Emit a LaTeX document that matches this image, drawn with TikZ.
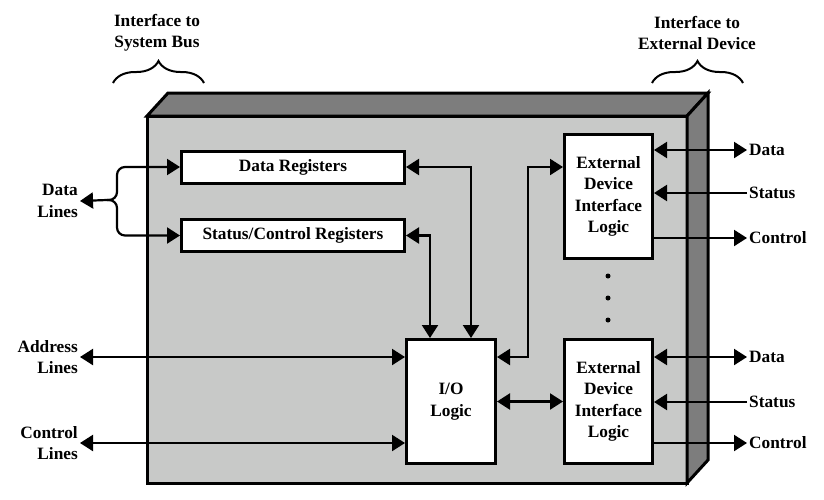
\documentclass[tikz,border=0pt]{standalone}
\usepackage{fontspec}
\setmainfont{Liberation Serif}
\usetikzlibrary{arrows.meta,decorations.pathreplacing,calc}
\definecolor{frontgray}{RGB}{200,201,200}
\definecolor{sidegray}{RGB}{125,125,125}
\begin{document}
\begin{tikzpicture}[x=1pt,y=-1pt,
  txt/.style={font=\fontsize{17.3}{21.5}\selectfont\bfseries},
  box/.style={txt, draw, line width=3pt, fill=white, align=center, inner sep=0pt},
  lbl/.style={txt, inner sep=2pt},
  conn/.style={line width=2.2pt},
  bracestyle/.style={line width=2pt, decorate, decoration={brace, amplitude=22pt}},
  >={Triangle[length=13pt,width=16pt]}
]
\useasboundingbox (0,0) rectangle (824,499);
% housing
\draw[line width=3pt, fill=frontgray] (147,116) rectangle (687,483);
\draw[line width=3pt, fill=sidegray, line join=miter] (147,116) -- (168,93) -- (708,93) -- (687,116) -- cycle;
\draw[line width=3pt, fill=sidegray, line join=miter] (687,116) -- (708,93) -- (708,460) -- (687,483) -- cycle;
% inner boxes
\node[box, minimum width=223pt, minimum height=32pt] (dr) at (293,167) {Data Registers};
\node[box, minimum width=223pt, minimum height=32pt] (sr) at (293,235.5) {Status/Control Registers};
\node[box, minimum width=89pt, minimum height=124pt] (io) at (451,401.5) {I/O\\Logic};
\node[box, minimum width=88pt, minimum height=124pt] (e1) at (608.5,196.5) {External\\Device\\Interface\\Logic};
\node[box, minimum width=88pt, minimum height=124pt] (e2) at (608.5,401.5) {External\\Device\\Interface\\Logic};
% dots
\fill (608,276) circle (2.5pt);
\fill (608,298) circle (2.5pt);
\fill (608,320) circle (2.5pt);
% left labels
\node[lbl, align=right, anchor=east] (dl) at (80,201) {Data\\Lines};
\node[lbl, align=right, anchor=east] (al) at (80,357) {Address\\Lines};
\node[lbl, align=right, anchor=east] (cl) at (80,443) {Control\\Lines};
% right labels
\node[lbl, anchor=west] (d1) at (747,150) {Data};
\node[lbl, anchor=west] (s1) at (747,193) {Status};
\node[lbl, anchor=west] (c1) at (747,238) {Control};
\node[lbl, anchor=west] (d2) at (747,357) {Data};
\node[lbl, anchor=west] (s2) at (747,402) {Status};
\node[lbl, anchor=west] (c2) at (747,443) {Control};
% top labels
\node[lbl, align=center] (tl) at (157,33) {Interface to\\System Bus};
\node[lbl, align=center] (tr) at (697,33) {Interface to\\External Device};
\draw[bracestyle] (113,83) -- (204,83);
\draw[bracestyle] (652,83) -- (743,83);
% connectors
\coordinate (br) at (107,200);
\coordinate (bx) at (117,200);
\draw[conn,->] (br) -- (dl.east);
\draw[conn,->,rounded corners=8pt] (br) -- (bx) |- (dr.west);
\draw[conn,->,rounded corners=8pt] (br) -- (bx) |- (sr.west);
\draw[conn,<->] (dr.east) -| ([xshift=20pt]io.north);
\draw[conn,<->] (sr.east) -| ([xshift=-21pt]io.north);
\draw[conn,<->] (al.east) -- (al.east -| io.west);
\draw[conn,<->] (cl.east) -- (cl.east -| io.west);
\coordinate (j) at (528,0);
\draw[conn,<->] (io.east |- al.east) -- (j |- al.east) -- (j |- dr.east) -- (e1.west |- dr.east);
\draw[conn,<->] (io.east) -- (e2.west);
\draw[conn,<->] (e1.east |- d1.west) -- (d1.west);
\draw[conn,->] (s1.west) -- (e1.east |- s1.west);
\draw[conn,->] (e1.east |- c1.west) -- (c1.west);
\draw[conn,<->] (e2.east |- d2.west) -- (d2.west);
\draw[conn,->] (s2.west) -- (e2.east |- s2.west);
\draw[conn,->] (e2.east |- c2.west) -- (c2.west);
\end{tikzpicture}
\end{document}
